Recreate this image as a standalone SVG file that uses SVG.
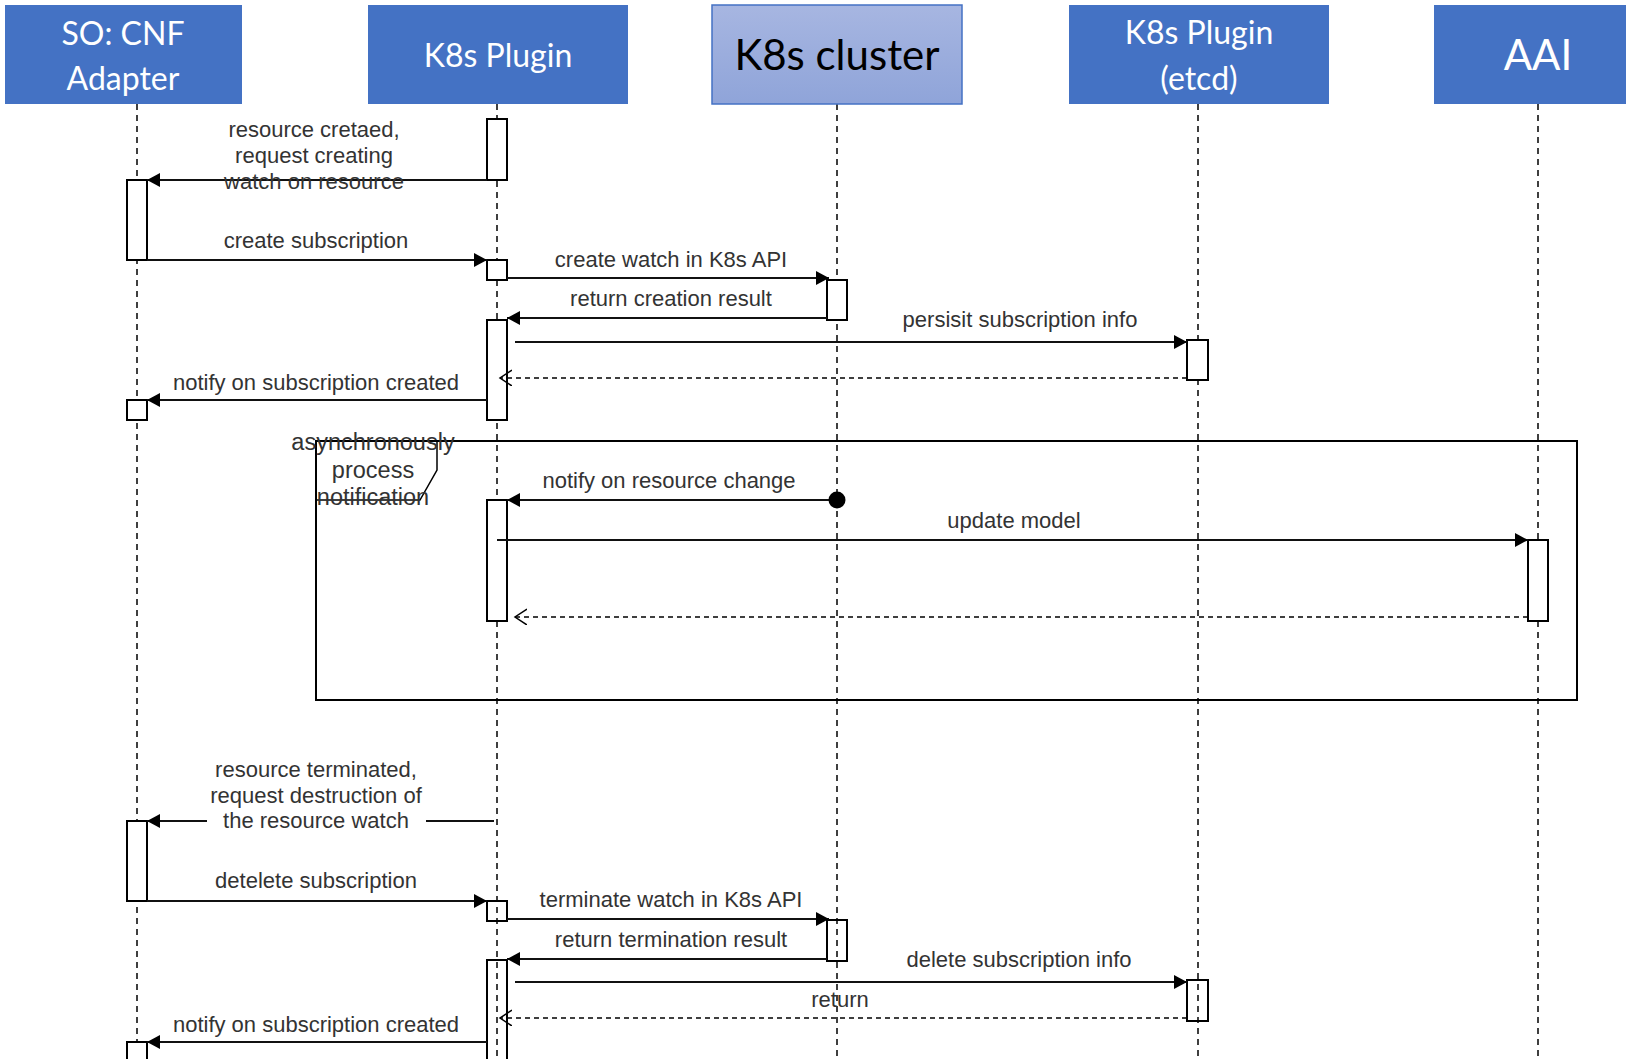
<svg xmlns="http://www.w3.org/2000/svg" width="1626" height="1059" viewBox="0 0 1626 1059">
<style>
.hdr{fill:#4472c4}
.ht{font-family:Lato,"Open Sans",sans-serif;fill:#fff;text-anchor:middle}
.life{stroke:#000;stroke-width:1.5;stroke-dasharray:6 5;fill:none}
.bar{fill:#fff;stroke:#000;stroke-width:2}
.barn{fill:none;stroke:#000;stroke-width:2}
.msg{stroke:#111;stroke-width:2.2;fill:none}
.ret{stroke:#000;stroke-width:1.6;stroke-dasharray:5 4;fill:none}
.lbl{font-family:"Liberation Sans",Arial,sans-serif;font-size:22px;fill:#333;text-anchor:middle}
.loop{font-family:"Liberation Sans",Arial,sans-serif;font-size:23.5px;fill:#333;text-anchor:middle}
</style>
<defs>
<linearGradient id="cg" x1="0" y1="0" x2="0" y2="1">
<stop offset="0" stop-color="#a7b6e1"/>
<stop offset="1" stop-color="#8fa4d9"/>
</linearGradient>
<marker id="af" markerUnits="userSpaceOnUse" markerWidth="16" markerHeight="16" refX="13" refY="7" orient="auto">
<path d="M0,0 L13,7 L0,14 z" fill="#000"/>
</marker>
<marker id="ao" markerUnits="userSpaceOnUse" markerWidth="14" markerHeight="18" refX="12" refY="8" orient="auto">
<path d="M0,0 L12,8 L0,16" fill="none" stroke="#000" stroke-width="1.5"/>
</marker>
</defs>
<rect width="1626" height="1059" fill="#fff"/>

<g id="lifelines">
<line class="life" x1="137" y1="104" x2="137" y2="1059"/>
<line class="life" x1="497" y1="104" x2="497" y2="1059"/>
<line class="life" x1="837" y1="104" x2="837" y2="1059"/>
<line class="life" x1="1198" y1="104" x2="1198" y2="1059"/>
<line class="life" x1="1538" y1="104" x2="1538" y2="1059"/>
</g>

<g id="so-cnf-adapter">
<rect class="hdr" x="5" y="5" width="237" height="99"/>
<text class="ht" x="123" y="45" font-size="32">SO: CNF</text>
<text class="ht" x="123" y="90" font-size="32">Adapter</text>
</g>
<g id="k8s-plugin">
<rect class="hdr" x="368" y="5" width="260" height="99"/>
<text class="ht" x="498" y="67" font-size="32">K8s Plugin</text>
</g>
<g id="k8s-cluster">
<rect x="712" y="5" width="250" height="99" fill="url(#cg)" stroke="#4472c4" stroke-width="1.5"/>
<text class="ht" x="837" y="70" font-size="42" style="fill:#000">K8s cluster</text>
</g>
<g id="k8s-plugin-etcd">
<rect class="hdr" x="1069" y="5" width="260" height="99"/>
<text class="ht" x="1199" y="44" font-size="32">K8s Plugin</text>
<text class="ht" x="1199" y="90" font-size="32">(etcd)</text>
</g>
<g id="aai">
<rect class="hdr" x="1434" y="5" width="192" height="99"/>
<text class="ht" x="1538" y="70" font-size="42">AAI</text>
</g>

<g id="loop-frame">
<rect x="316" y="441" width="1261" height="259" fill="none" stroke="#000" stroke-width="2"/>
<path d="M316,441 H437 V470 L420,500 H316" fill="none" stroke="#000" stroke-width="1.5"/>
<text class="loop" x="373" y="450">asynchronously</text>
<text class="loop" x="373" y="478">process</text>
<text class="loop" x="373" y="505">notification</text>
</g>

<g id="activations">
<rect class="bar" x="487" y="119" width="20" height="61"/>
<rect class="bar" x="127" y="180" width="20" height="80"/>
<rect class="bar" x="487" y="260" width="20" height="20"/>
<rect class="bar" x="827" y="280" width="20" height="40"/>
<rect class="bar" x="487" y="320" width="20" height="100"/>
<rect class="bar" x="1187" y="340" width="21" height="40"/>
<rect class="bar" x="127" y="400" width="20" height="20"/>
<rect class="bar" x="487" y="500" width="20" height="121"/>
<rect class="bar" x="1528" y="540" width="20" height="81"/>
<rect class="bar" x="127" y="821" width="20" height="80"/>
<rect class="barn" x="487" y="901" width="20" height="20"/>
<rect class="barn" x="827" y="920" width="20" height="41"/>
<rect class="barn" x="487" y="960" width="20" height="110"/>
<rect class="barn" x="1187" y="980" width="21" height="41"/>
<rect class="bar" x="127" y="1042" width="20" height="30"/>
</g>

<g id="connectors">
<line class="msg" x1="487" y1="180" x2="147" y2="180" marker-end="url(#af)"/>
<line class="msg" x1="147" y1="260" x2="487" y2="260" marker-end="url(#af)"/>
<line class="msg" x1="507" y1="278" x2="829" y2="278" marker-end="url(#af)"/>
<line class="msg" x1="827" y1="318" x2="507" y2="318" marker-end="url(#af)"/>
<line class="msg" x1="515" y1="342" x2="1187" y2="342" marker-end="url(#af)"/>
<line class="ret" x1="1187" y1="378" x2="500" y2="378" marker-end="url(#ao)"/>
<line class="msg" x1="487" y1="400" x2="147" y2="400" marker-end="url(#af)"/>
<line class="msg" x1="837" y1="500" x2="507" y2="500" marker-end="url(#af)"/>
<circle cx="837" cy="500" r="8.5" fill="#000"/>
<line class="msg" x1="497" y1="540" x2="1528" y2="540" marker-end="url(#af)"/>
<line class="ret" x1="1528" y1="617" x2="515" y2="617" marker-end="url(#ao)"/>
<line class="msg" x1="494" y1="821" x2="426" y2="821"/>
<line class="msg" x1="207" y1="821" x2="147" y2="821" marker-end="url(#af)"/>
<line class="msg" x1="147" y1="901" x2="487" y2="901" marker-end="url(#af)"/>
<line class="msg" x1="507" y1="919" x2="829" y2="919" marker-end="url(#af)"/>
<line class="msg" x1="827" y1="959" x2="507" y2="959" marker-end="url(#af)"/>
<line class="msg" x1="515" y1="982" x2="1187" y2="982" marker-end="url(#af)"/>
<line class="ret" x1="1187" y1="1018" x2="500" y2="1018" marker-end="url(#ao)"/>
<line class="msg" x1="487" y1="1042" x2="147" y2="1042" marker-end="url(#af)"/>
</g>

<g id="labels">
<text class="lbl" x="314" y="137">resource cretaed,</text>
<text class="lbl" x="314" y="163">request creating</text>
<text class="lbl" x="314" y="189">watch on resource</text>
<text class="lbl" x="316" y="248">create subscription</text>
<text class="lbl" x="671" y="267">create watch in K8s API</text>
<text class="lbl" x="671" y="306">return creation result</text>
<text class="lbl" x="1020" y="327">persisit subscription info</text>
<text class="lbl" x="316" y="390">notify on subscription created</text>
<text class="lbl" x="669" y="488">notify on resource change</text>
<text class="lbl" x="1014" y="528">update model</text>
<text class="lbl" x="316" y="777">resource terminated,</text>
<text class="lbl" x="316" y="803">request destruction of</text>
<text class="lbl" x="316" y="828">the resource watch</text>
<text class="lbl" x="316" y="888">detelete subscription</text>
<text class="lbl" x="671" y="907">terminate watch in K8s API</text>
<text class="lbl" x="671" y="947">return termination result</text>
<text class="lbl" x="1019" y="967">delete subscription info</text>
<text class="lbl" x="840" y="1007">return</text>
<text class="lbl" x="316" y="1032">notify on subscription created</text>
</g>
</svg>
